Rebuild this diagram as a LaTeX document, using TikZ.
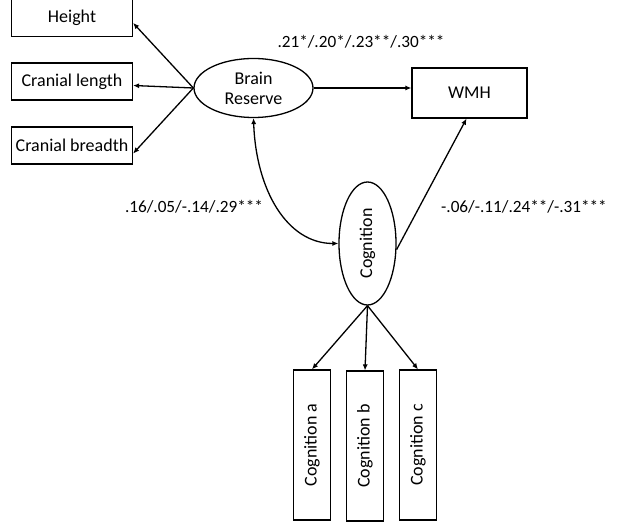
\documentclass[tikz,border=0pt]{standalone}
\usepackage{fontspec}
\setmainfont{Carlito}
\usetikzlibrary{shapes.geometric, arrows.meta}

\begin{document}
\begin{tikzpicture}[x=0.5pt, y=-0.5pt, line width=0.65pt, font=\fontsize{9}{11}\selectfont,
    obsbox/.style={draw, rectangle, inner sep=0pt, minimum width=60.5pt, minimum height=18.5pt},
    testbox/.style={draw, rectangle, inner sep=0pt, minimum width=18.5pt, minimum height=75pt},
    latent/.style={draw, ellipse, inner sep=0pt, align=center},
    coef/.style={font=\fontsize{8.6}{10}\selectfont},
    path/.style={-{Latex[length=3pt, width=2.6pt]}}]
    \useasboundingbox (0,0) rectangle (626,523);
    \node[obsbox] (h) at (72,18) {Height};
    \node[obsbox] (cl) at (72,81.5) {Cranial length};
    \node[obsbox] (cb) at (72,145.5) {Cranial breadth};
    \node[latent, minimum width=59.5pt, minimum height=29.5pt] (br) at (253.5,88) {Brain\\[-1pt]Reserve};
    \node[draw, rectangle, inner sep=0pt, minimum width=57.5pt, minimum height=25pt] (wmh) at (469.5,93) {WMH};
    \node[latent, minimum width=28.5pt, minimum height=61.5pt] (cog) at (367.5,243.5) {\rotatebox{90}{Cognition}};
    \node[testbox] (ca) at (312,445) {\rotatebox{90}{Cognition a}};
    \node[testbox] (cbb) at (365,446) {\rotatebox{90}{Cognition b}};
    \node[testbox] (cc) at (418,445) {\rotatebox{90}{Cognition c}};

    \draw[path] (br.west) -- ([yshift=-2.5pt]h.east);
    \draw[path] (br.west) -- ([yshift=-2pt]cl.east);
    \draw[path] (br.west) -- ([yshift=-4pt]cb.east);
    \draw[path] (br.east) -- (wmh.west |- br.east);
    \draw[{Latex[length=3pt, width=2.6pt]}-{Latex[length=3pt, width=2.6pt]}] (br.south) .. controls (256,190) and (287,243.5) .. (cog.west);
    \draw[path] ([yshift=-3pt]cog.east) -- ([xshift=-1.5pt]wmh.south);
    \draw[path] (cog.south) -- (ca.north);
    \draw[path] (cog.south) -- (cbb.north);
    \draw[path] (cog.south) -- (cc.north);

    \node[coef] (b1) at (361,42) {.21*/.20*/.23**/.30***};
    \node[coef] (b2) at (194,207) {.16/.05/-.14/.29***};
    \node[coef] (b3) at (524,207) {-.06/-.11/.24**/-.31***};
\end{tikzpicture}
\end{document}
